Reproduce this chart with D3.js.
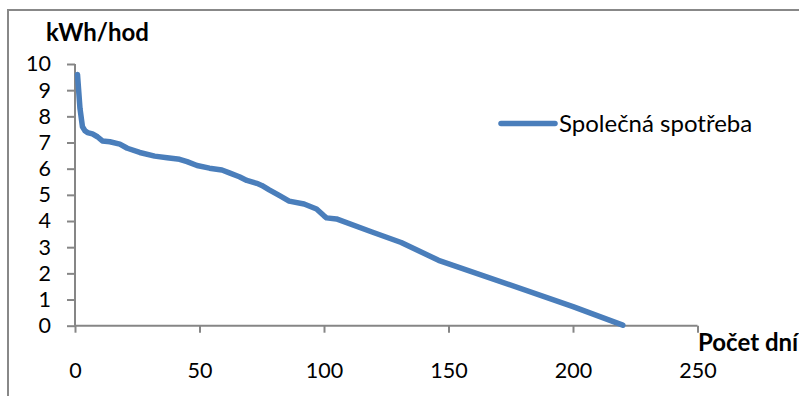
<!DOCTYPE html>
<html>
<head>
<meta charset="utf-8">
<script src="https://cdn.jsdelivr.net/npm/d3@7"></script>
<style>
  html, body { margin: 0; padding: 0; background: #fff; }
  svg { display: block; }
  text { font-family: Lato, "Open Sans", sans-serif; fill: #000; }
</style>
</head>
<body>
<svg id="chart" width="799" height="396"></svg>
<script>
// Sorted daily consumption (duration curve): day index and kWh per hour
const days   = [1, 2, 3, 4, 5, 7, 9, 11, 14, 18, 21, 26, 32, 37, 42, 45, 49, 54, 59, 62, 66, 69, 73, 75, 78, 82, 86, 92, 97, 100, 101, 105, 119, 131, 146, 200, 220];
const values = [9.6, 8.3, 7.6, 7.45, 7.38, 7.33, 7.22, 7.06, 7.03, 6.94, 6.78, 6.62, 6.48, 6.42, 6.36, 6.27, 6.12, 6.02, 5.95, 5.84, 5.69, 5.55, 5.44, 5.36, 5.19, 4.98, 4.76, 4.65, 4.46, 4.2, 4.12, 4.08, 3.59, 3.18, 2.5, 0.73, 0.02];

const xTicks = [0, 50, 100, 150, 200, 250];
const yTicks = [0, 1, 2, 3, 4, 5, 6, 7, 8, 9, 10];

const seriesName = "Společná spotřeba";
const yTitle = "kWh/hod";
const xTitle = "Počet dní";

const lineColor = "#4a7ebb";
const axisColor = "#868686";
const fontSize = 21.5;
const fontFamily = 'Lato, "Open Sans", sans-serif';

const svg = d3.select("#chart");

// outer chart frame
svg.append("rect")
  .attr("x", 8).attr("y", 10)
  .attr("width", 820).attr("height", 420)
  .attr("fill", "none")
  .attr("stroke", "#888")
  .attr("stroke-width", 2);

const x = d3.scaleLinear().domain([0, 250]).range([75, 697.5]);
const y = d3.scaleLinear().domain([0, 10]).range([325.7, 64]);

// y axis
const yAxis = svg.append("g")
  .attr("transform", `translate(${x(0)},0)`)
  .call(d3.axisLeft(y).tickValues(yTicks).tickFormat(d3.format("d")).tickSize(8).tickPadding(16));
// x axis
const xAxis = svg.append("g")
  .attr("transform", `translate(0,${y(0)})`)
  .call(d3.axisBottom(x).tickValues(xTicks).tickFormat(d3.format("d")).tickSize(7).tickPadding(30));

[yAxis, xAxis].forEach(g => {
  g.select(".domain").attr("stroke", axisColor).attr("stroke-width", 2);
  g.selectAll(".tick line").attr("stroke", axisColor).attr("stroke-width", 2);
  g.selectAll(".tick text")
    .attr("fill", "#000")
    .style("font-family", fontFamily)
    .style("font-size", fontSize + "px");
});
// axis lines span exactly the scale domains
yAxis.select(".domain").attr("d", `M0,${y(10)}V${y(0)}`);
xAxis.select(".domain").attr("d", `M${x(0)},0H${x(250)}`);

// axis titles
svg.append("text")
  .attr("x", 46).attr("y", 41)
  .style("font-size", "24px")
  .style("font-weight", "bold")
  .text(yTitle);

svg.append("text")
  .attr("x", 698).attr("y", 351)
  .style("font-size", "24px")
  .style("font-weight", "bold")
  .text(xTitle);

// data line
const data = days.map((d, i) => ({ day: d, v: values[i] }));
const line = d3.line().x(d => x(d.day)).y(d => y(d.v));

svg.append("path")
  .datum(data)
  .attr("d", line)
  .attr("fill", "none")
  .attr("stroke", lineColor)
  .attr("stroke-width", 5.5)
  .attr("stroke-linejoin", "round")
  .attr("stroke-linecap", "round");

// legend
const legend = svg.append("g").attr("transform", "translate(501,123.5)");
legend.append("line")
  .attr("x1", 0).attr("x2", 54).attr("y1", 0).attr("y2", 0)
  .attr("stroke", lineColor).attr("stroke-width", 5.5)
  .attr("stroke-linecap", "round");
legend.append("text")
  .attr("x", 58).attr("y", 8)
  .style("font-size", "24px")
  .text(seriesName);
</script>
</body>
</html>
